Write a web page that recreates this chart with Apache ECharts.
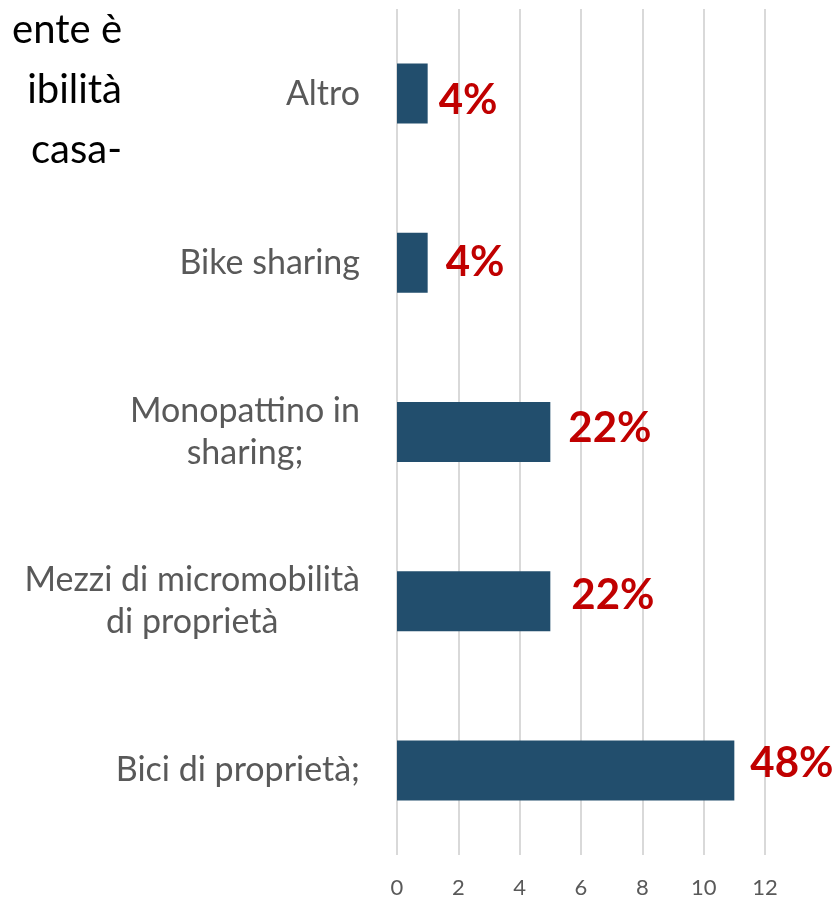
<!DOCTYPE html>
<html>
<head>
<meta charset="utf-8">
<script src="https://cdn.jsdelivr.net/npm/echarts@6/dist/echarts.min.js"></script>
<style>
html,body{margin:0;padding:0;background:#fff;}
#chart{width:836px;height:900px;}
</style>
</head>
<body>
<div id="chart"></div>
<script>
var categories = ['Altro', 'Bike sharing', 'Monopattino in\nsharing;', 'Mezzi di micromobilità\ndi proprietà', 'Bici di proprietà;'];
var values = [1, 1, 5, 5, 11];
var pctLabels = ['4%', '4%', '22%', '22%', '48%'];
var xTicks = [0, 2, 4, 6, 8, 10, 12];
var titleLines = ['ente è', 'ibilità', 'casa-'];

var FONT = 'Lato, "Noto Sans", sans-serif';
var chart = echarts.init(document.getElementById('chart'));

// hand-placed data label nudges (style only), as in the reference
var nudges = [[-5, 7], [2, 0], [2, -4], [5, -6], [0, -7]];

chart.setOption({
  animation: false,
  backgroundColor: '#ffffff',
  grid: { left: 397, right: 71, top: 9, bottom: 45, containLabel: false },
  xAxis: {
    type: 'value',
    min: xTicks[0],
    max: xTicks[xTicks.length - 1],
    interval: xTicks[1] - xTicks[0],
    axisLine: { show: false },
    axisTick: { show: false },
    splitLine: { show: true, lineStyle: { color: '#d9d9d9', width: 2 } },
    axisLabel: { color: '#595959', fontSize: 22, fontFamily: FONT, margin: 22 }
  },
  yAxis: {
    type: 'category',
    inverse: true,
    data: categories,
    axisLine: { show: false },
    axisTick: { show: false },
    axisLabel: {
      margin: 37,
      color: '#595959',
      fontSize: 34,
      fontFamily: FONT,
      lineHeight: 42,
      formatter: function (v) {
        return v.split('\n').map(function (l) { return '{c|' + l + '}'; }).join('\n');
      },
      rich: { c: { align: 'center', color: '#595959', fontSize: 34, fontFamily: FONT, lineHeight: 42 } }
    }
  },
  series: [{
    type: 'bar',
    data: values.map(function (v, i) {
      return { value: v, label: { offset: nudges[i] } };
    }),
    barWidth: 60,
    itemStyle: { color: '#224E6D' },
    label: {
      show: true,
      position: 'right',
      distance: 16,
      color: '#C00000',
      fontSize: 42,
      fontWeight: 'bold',
      fontFamily: FONT,
      formatter: function (p) { return pctLabels[p.dataIndex]; }
    }
  }],
  graphic: titleLines.map(function (t, i) {
    return {
      type: 'text',
      right: 714,
      top: 10 + i * 60,
      style: { text: t, fill: '#000000', font: '40px ' + FONT, textAlign: 'right' }
    };
  })
});
</script>
</body>
</html>
